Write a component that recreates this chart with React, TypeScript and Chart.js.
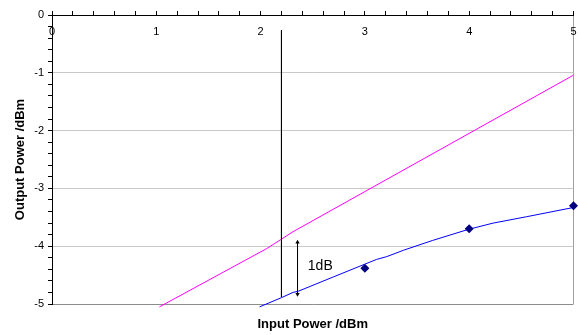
import React, { useEffect, useRef } from 'react';
import { Chart, registerables } from 'chart.js';

Chart.register(...registerables);

// Axis ranges
const X_MIN = 0;
const X_MAX = 5;
const Y_MIN = -5;
const Y_MAX = 0;
const MINOR_STEP = 0.2;

// Ideal (linear) response, magenta
const idealX = [1.03, 2.06, 2.31, 5.0];
const idealY = [-5.05, -4.04, -3.75, -1.04];

// Fitted compressed response, blue
const fitX = [1.99, 2.2, 2.31, 2.36, 2.7, 3.11, 3.21, 3.37, 3.65, 3.99, 4.23, 4.55, 5.0];
const fitY = [-5.05, -4.89, -4.8, -4.78, -4.53, -4.23, -4.18, -4.07, -3.9, -3.71, -3.6, -3.49, -3.33];

// Measured points, navy diamonds
const measuredX = [3, 4, 5];
const measuredY = [-4.38, -3.7, -3.3];

// 1 dB compression marker (vertical line)
const markerX = [2.2, 2.2];
const markerY = [-0.26, -4.88];

// Double arrow showing the 1 dB gap
const arrowX = [2.354, 2.354];
const arrowY = [-3.93, -4.83];

// Annotation
const annotationText = '1dB';
const annotationX = 2.572;
const annotationY = -4.35;

const xTitle = 'Input Power /dBm';
const yTitle = 'Output Power /dBm';

const FONT = '"Liberation Sans", Arial, sans-serif';

const isMajor = (v: number) => Math.abs(v - Math.round(v)) < 1e-6;
const pts = (xs: number[], ys: number[]) => xs.map((x, i) => ({ x, y: ys[i] }));

const annotationPlugin = {
  id: 'dbAnnotation',
  afterDatasetsDraw(chart: any) {
    const { ctx, scales } = chart;
    ctx.save();
    ctx.font = `14px ${FONT}`;
    ctx.fillStyle = '#000000';
    ctx.textAlign = 'center';
    ctx.textBaseline = 'middle';
    ctx.fillText(
      annotationText,
      scales.x.getPixelForValue(annotationX),
      scales.y.getPixelForValue(annotationY)
    );
    ctx.restore();
  },
};

export default function App() {
  const canvasRef = useRef<HTMLCanvasElement | null>(null);

  useEffect(() => {
    if (!canvasRef.current) return;
    Chart.defaults.font.family = FONT;
    const chart = new Chart(canvasRef.current, {
      type: 'scatter',
      data: {
        datasets: [
          {
            data: pts(measuredX, measuredY),
            showLine: false,
            pointStyle: 'rectRot',
            pointRadius: 4.5,
            pointBackgroundColor: '#000080',
            pointBorderColor: '#000080',
            pointBorderWidth: 0,
            clip: false,
          },
          {
            data: pts(arrowX, arrowY),
            showLine: true,
            borderColor: '#000000',
            borderWidth: 1,
            pointStyle: 'triangle',
            pointRadius: 2.5,
            pointRotation: [0, 180],
            pointBackgroundColor: '#000000',
            pointBorderColor: '#000000',
            pointBorderWidth: 0,
          },
          {
            data: pts(markerX, markerY),
            showLine: true,
            borderColor: '#000000',
            borderWidth: 1,
            pointRadius: 0,
          },
          {
            data: pts(fitX, fitY),
            showLine: true,
            borderColor: '#0000ff',
            borderWidth: 1,
            pointRadius: 0,
            clip: { left: 0, top: 0, right: 0, bottom: 4 },
          },
          {
            data: pts(idealX, idealY),
            showLine: true,
            borderColor: '#ff00ff',
            borderWidth: 1,
            pointRadius: 0,
            clip: { left: 0, top: 0, right: 0, bottom: 4 },
          },
        ],
      },
      options: {
        responsive: false,
        animation: false,
        events: [],
        layout: { padding: { top: 0, right: 4, bottom: 0, left: 0 } },
        plugins: {
          legend: { display: false },
          tooltip: { enabled: false },
        },
        scales: {
          x: {
            type: 'linear',
            position: 'top',
            min: X_MIN,
            max: X_MAX,
            afterFit: (scale: any) => {
              scale.height = 15;
              scale.paddingLeft = 0;
              scale.paddingRight = 0;
            },
            border: { display: true, color: '#000000', width: 1 },
            grid: {
              drawTicks: true,
              tickLength: 4,
              tickColor: '#000000',
              lineWidth: 1,
              color: (ctx: any) =>
                ctx.tick && Math.abs(ctx.tick.value - X_MAX) < 1e-6 ? '#a0a0a0' : 'rgba(0,0,0,0)',
            },
            ticks: {
              stepSize: MINOR_STEP,
              autoSkip: false,
              maxRotation: 0,
              maxTicksLimit: 100,
              mirror: true,
              padding: 10.5,
              color: '#000000',
              font: { size: 11, family: FONT },
              callback: (v: any) => (isMajor(Number(v)) ? String(Math.round(Number(v)) || 0) : ''),
            },
          },
          x2: {
            type: 'linear',
            axis: 'x',
            position: 'bottom',
            min: X_MIN,
            max: X_MAX,
            afterFit: (scale: any) => {
              scale.height = 31;
              scale.paddingLeft = 0;
              scale.paddingRight = 0;
            },
            border: { display: false },
            grid: { display: false },
            ticks: { display: false },
            title: {
              display: true,
              text: xTitle,
              color: '#000000',
              font: { size: 13, weight: 'bold', family: FONT },
              padding: { top: 0, bottom: 3 },
            },
          },
          y: {
            type: 'linear',
            position: 'left',
            min: Y_MIN,
            max: Y_MAX,
            afterFit: (scale: any) => {
              scale.width = 52;
            },
            border: { display: true, color: '#000000', width: 1 },
            grid: {
              drawTicks: true,
              tickLength: 4,
              tickColor: '#000000',
              lineWidth: 1,
              color: (ctx: any) => {
                const v = ctx.tick ? ctx.tick.value : NaN;
                if (!isMajor(v) || Math.abs(v - Y_MAX) < 1e-6) return 'rgba(0,0,0,0)';
                if (Math.abs(v - Y_MIN) < 1e-6) return '#8c8c8c';
                return '#c8c8c8';
              },
            },
            ticks: {
              stepSize: MINOR_STEP,
              autoSkip: false,
              maxTicksLimit: 100,
              padding: 4,
              color: '#000000',
              font: { size: 11, family: FONT },
              callback: (v: any) => (isMajor(Number(v)) ? String(Math.round(Number(v)) || 0) : ''),
            },
            title: {
              display: true,
              text: yTitle,
              color: '#000000',
              font: { size: 13, weight: 'bold', family: FONT },
              padding: { top: 13, bottom: 0 },
            },
          },
        },
      },
      plugins: [annotationPlugin],
    } as any);
    return () => chart.destroy();
  }, []);

  return (
    <div style={{ position: 'fixed', left: 0, top: 0, width: 578, height: 335, background: '#ffffff' }}>
      <canvas ref={canvasRef} width={578} height={335} style={{ display: 'block' }} />
    </div>
  );
}
